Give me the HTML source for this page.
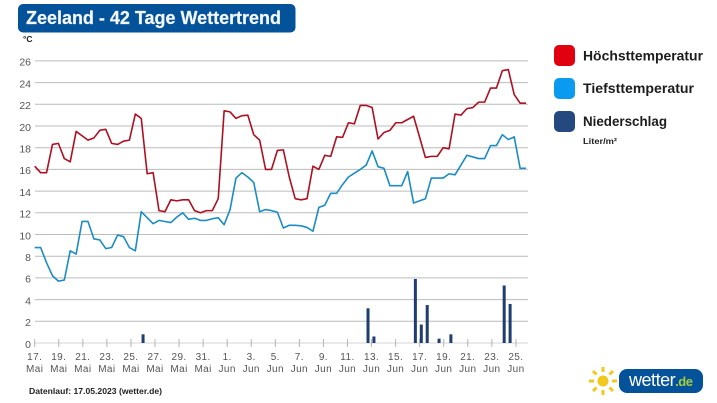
<!DOCTYPE html>
<html lang="de">
<head>
<meta charset="utf-8">
<title>Zeeland - 42 Tage Wettertrend</title>
<style>
html,body{margin:0;padding:0;background:#fff;width:717px;height:403px;overflow:hidden}
svg{display:block;font-family:"Liberation Sans",sans-serif;filter:blur(0.3px)}
</style>
</head>
<body>
<svg id="chart" width="717" height="403" viewBox="0 0 717 403" xmlns="http://www.w3.org/2000/svg">
  <rect x="18" y="4" width="277.5" height="28.5" rx="5" fill="#04529a"/>
  <text x="26" y="24" font-size="18" font-weight="700" fill="#f4f8fb" stroke="#f4f8fb" stroke-width="0.2" textLength="255" lengthAdjust="spacingAndGlyphs">Zeeland - 42 Tage Wettertrend</text>
  <text x="23" y="42" font-size="8.5" font-weight="700" fill="#222">°C</text>
  <g id="grid"></g>
  <g id="ylabels"></g>
  <g id="xaxis"></g>
  <g id="bars"></g>
  <path id="line-high" fill="none" stroke="#ad1022" stroke-width="1.6" stroke-linejoin="round"/>
  <path id="line-low" fill="none" stroke="#1b8cc4" stroke-width="1.6" stroke-linejoin="round"/>

  <g>
    <rect x="554" y="45" width="21" height="21" rx="5" fill="#e1000f"/>
    <text x="583" y="60.5" font-size="14" font-weight="700" fill="#1c1c1c" textLength="120" lengthAdjust="spacingAndGlyphs">Höchsttemperatur</text>
    <rect x="554" y="78" width="21" height="21" rx="5" fill="#0a9bf0"/>
    <text x="583" y="93" font-size="14" font-weight="700" fill="#1c1c1c" textLength="111" lengthAdjust="spacingAndGlyphs">Tiefsttemperatur</text>
    <rect x="554" y="111" width="21" height="21" rx="5" fill="#23497f"/>
    <text x="583" y="126" font-size="14" font-weight="700" fill="#1c1c1c" textLength="84" lengthAdjust="spacingAndGlyphs">Niederschlag</text>
    <text x="583" y="144" font-size="8.5" font-weight="700" fill="#222" textLength="34" lengthAdjust="spacingAndGlyphs">Liter/m²</text>
  </g>

  <text x="29" y="394" font-size="8.6" font-weight="700" fill="#222" textLength="133" lengthAdjust="spacingAndGlyphs">Datenlauf: 17.05.2023 (wetter.de)</text>

  <g>
    <g stroke="#f2c81e" stroke-width="3" stroke-linecap="butt">
      <line x1="603" y1="367" x2="603" y2="372"/>
      <line x1="603" y1="390" x2="603" y2="395"/>
      <line x1="589" y1="381" x2="594" y2="381"/>
      <line x1="612" y1="381" x2="617" y2="381"/>
      <line x1="593" y1="371" x2="596.5" y2="374.5"/>
      <line x1="609.5" y1="387.5" x2="613" y2="391"/>
      <line x1="613" y1="371" x2="609.5" y2="374.5"/>
      <line x1="596.5" y1="387.5" x2="593" y2="391"/>
      <circle cx="603" cy="381" r="5.5" fill="#f2c81e" stroke="none"/>
    </g>
    <rect x="619" y="369" width="84" height="24" rx="8" fill="#04529a"/>
    <text x="629" y="386" font-size="18" fill="#fff" textLength="64" lengthAdjust="spacing">wetter<tspan font-size="13" font-weight="700" fill="#a6cf3c">.de</tspan></text>
  </g>
</svg>
<script>
const tickDays = ["17.","19.","21.","23.","25.","27.","29.","31.","1.","3.","5.","7.","9.","11.","13.","15.","17.","19.","21.","23.","25."];
const tickMonths = ["Mai","Mai","Mai","Mai","Mai","Mai","Mai","Mai","Jun","Jun","Jun","Jun","Jun","Jun","Jun","Jun","Jun","Jun","Jun","Jun","Jun"];
const yTicks = [0,2,4,6,8,10,12,14,16,18,20,22,24,26];
const highTemps = [16.3,15.7,15.7,18.3,18.4,17.0,16.7,19.5,19.1,18.7,18.9,19.6,19.7,18.4,18.3,18.6,18.7,21.1,20.7,15.6,15.7,12.2,12.1,13.2,13.1,13.2,13.2,12.2,12.0,12.2,12.2,13.3,21.4,21.3,20.7,20.95,21.0,19.2,18.7,16.0,16.0,17.75,17.8,15.3,13.3,13.2,13.3,16.3,16.0,17.3,17.2,19.0,18.95,20.3,20.2,21.9,21.9,21.7,18.8,19.4,19.6,20.3,20.3,20.6,20.9,19.0,17.1,17.2,17.2,18.0,17.9,21.1,21.0,21.6,21.7,22.2,22.2,23.5,23.5,25.1,25.2,22.9,22.1,22.1];
const lowTemps = [8.8,8.8,7.4,6.2,5.7,5.8,8.5,8.2,11.2,11.2,9.6,9.5,8.7,8.8,9.95,9.8,8.8,8.5,12.1,11.55,11.0,11.3,11.2,11.1,11.6,12.0,11.4,11.5,11.3,11.3,11.45,11.55,10.9,12.3,15.2,15.7,15.3,14.8,12.1,12.3,12.2,12.05,10.6,10.85,10.85,10.8,10.65,10.3,12.5,12.7,13.8,13.8,14.6,15.3,15.65,16.0,16.4,17.7,16.25,16.1,14.5,14.5,14.5,15.8,12.9,13.1,13.3,15.2,15.2,15.2,15.6,15.5,16.4,17.3,17.15,17.0,17.0,18.2,18.2,19.2,18.75,19.0,16.1,16.1];
const precipitation = [0,0,0,0,0,0,0,0,0,0,0,0,0,0,0,0,0,0,0.8,0,0,0,0,0,0,0,0,0,0,0,0,0,0,0,0,0,0,0,0,0,0,0,0,0,0,0,0,0,0,0,0,0,0,0,0,0,3.2,0.6,0,0,0,0,0,0,5.9,1.7,3.5,0,0.4,0,0.8,0,0,0,0,0,0,0,0,5.3,3.6,0,0,0];

const NS = "http://www.w3.org/2000/svg";
function yScale(v){ return 343 - v * 10.85; }
function xPoint(i){ return 34.7 + i * 5.92; }
function xBar(i){ return xPoint(i) + 1.8; }
function xTick(k){ return 34.7 + k * 24.06; }
function make(tag, attrs, parent, text){
  const el = document.createElementNS(NS, tag);
  for (const k in attrs) el.setAttribute(k, attrs[k]);
  if (text !== undefined) el.textContent = text;
  parent.appendChild(el);
  return el;
}

const grid = document.getElementById("grid");
const ylabels = document.getElementById("ylabels");
yTicks.forEach(function(v){
  if (v !== 0) {
    const gl = make("line", {x1:35, x2:528, y1:yScale(v), y2:yScale(v), stroke:"#bcbcbc", "stroke-width":1}, grid);
    
    
  }
  const yl = make("text", {x:31, y:yScale(v)+4.8, "text-anchor":"end", "font-size":10.5, fill:"#555"}, ylabels, String(v));
  
  
});

const xaxis = document.getElementById("xaxis");
const axisLine = make("line", {x1:35, x2:528, y1:343, y2:343, stroke:"#d4d4d4", "stroke-width":1}, xaxis);


tickDays.forEach(function(d, k){
  const x = xTick(k);
  const t = make("line", {x1:x, x2:x, y1:339, y2:347, stroke:"#b4b4b4", "stroke-width":1}, xaxis);
  
  
  const dl = make("text", {x:x, y:360, "text-anchor":"middle", "font-size":10, "letter-spacing":0.4, fill:"#555"}, xaxis, d);
  
  
  const ml = make("text", {x:x, y:372, "text-anchor":"middle", "font-size":10, "letter-spacing":0.4, fill:"#555"}, xaxis, tickMonths[k]);
  
  
});

const bars = document.getElementById("bars");
precipitation.forEach(function(v, i){
  if (v <= 0) return;
  const b = make("rect", {x:xBar(i)-1.5, y:yScale(v), width:3, height:343-yScale(v), fill:"#1f3d70"}, bars);
  
  
});

function linePath(values){
  return values.map(function(v, i){
    return (i ? "L" : "M") + xPoint(i).toFixed(2) + " " + yScale(v).toFixed(2);
  }).join(" ");
}
document.getElementById("line-high").setAttribute("d", linePath(highTemps));
document.getElementById("line-low").setAttribute("d", linePath(lowTemps));
</script>
</body>
</html>
